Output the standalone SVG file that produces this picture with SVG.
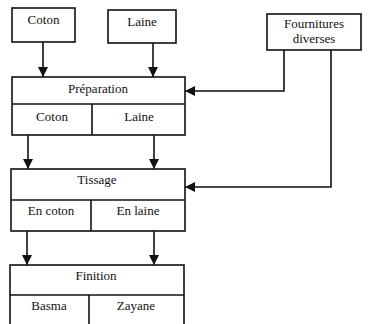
<svg xmlns="http://www.w3.org/2000/svg" width="376" height="324" viewBox="0 0 376 324">
<style>
.b{fill:#fff;stroke:#111;stroke-width:1.6}
.l{fill:none;stroke:#111;stroke-width:1.6}
.t{font-family:'Liberation Serif','DejaVu Serif',serif;font-size:13px;fill:#111;text-anchor:middle}
</style>
<defs>
<marker id="a" viewBox="0 0 10 10" refX="10" refY="5" markerWidth="10" markerHeight="10" markerUnits="userSpaceOnUse" orient="auto">
<path d="M0,0L10,5L0,10z" fill="#111"/>
</marker>
</defs>
<rect width="376" height="324" fill="#fff"/>
<g class="t">
<g id="coton"><rect class="b" x="12" y="8" width="63" height="34"/><text x="43.5" y="24">Coton</text></g>
<g id="laine"><rect class="b" x="108" y="10" width="68" height="33"/><text x="142" y="26">Laine</text></g>
<g id="fournitures"><rect class="b" x="267" y="14" width="94" height="36"/><text x="314" y="28">Fournitures</text><text x="314" y="43">diverses</text></g>
<g id="preparation"><rect class="b" x="12" y="77" width="173" height="58"/><line class="l" x1="12" y1="104" x2="185" y2="104"/><line class="l" x1="92" y1="104" x2="92" y2="135"/><text x="98" y="93">Préparation</text><text x="52" y="121">Coton</text><text x="139" y="121">Laine</text></g>
<g id="tissage"><rect class="b" x="11" y="169" width="174" height="62"/><line class="l" x1="11" y1="200" x2="185" y2="200"/><line class="l" x1="91" y1="200" x2="91" y2="231"/><text x="97" y="184">Tissage</text><text x="51" y="215">En coton</text><text x="138" y="215">En laine</text></g>
<g id="finition"><rect class="b" x="10" y="265" width="174" height="70"/><line class="l" x1="10" y1="295" x2="184" y2="295"/><line class="l" x1="89" y1="295" x2="89" y2="330"/><text x="96" y="280">Finition</text><text x="49" y="310">Basma</text><text x="136" y="310">Zayane</text></g>
</g>
<g id="connectors">
<line class="l" x1="43" y1="42" x2="43" y2="77" marker-end="url(#a)"/>
<line class="l" x1="153" y1="43" x2="153" y2="77" marker-end="url(#a)"/>
<line class="l" x1="28" y1="135" x2="28" y2="169" marker-end="url(#a)"/>
<line class="l" x1="154" y1="135" x2="154" y2="169" marker-end="url(#a)"/>
<line class="l" x1="27" y1="231" x2="27" y2="265" marker-end="url(#a)"/>
<line class="l" x1="154" y1="231" x2="154" y2="265" marker-end="url(#a)"/>
<polyline class="l" points="284,50 284,91 185,91" marker-end="url(#a)"/>
<polyline class="l" points="331,50 331,187 185,187" marker-end="url(#a)"/>
</g>
</svg>
